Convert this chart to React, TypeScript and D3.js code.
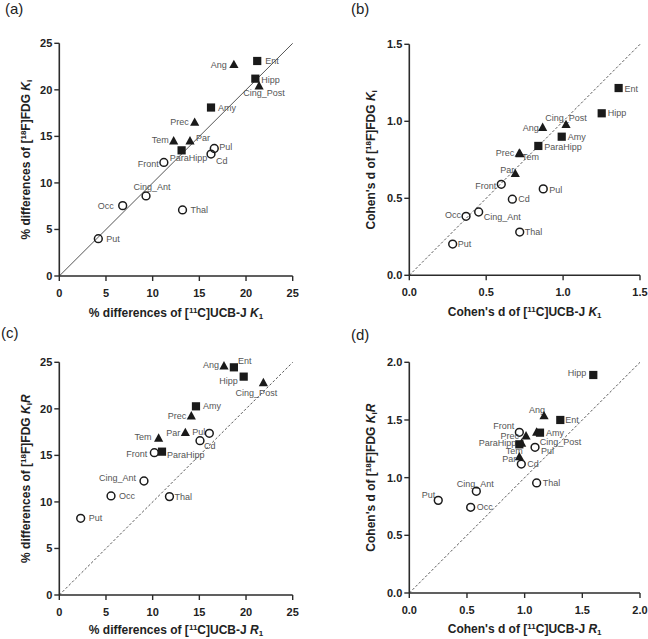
import React from "react";
import * as d3 from "d3";

// ---------- data ----------
const regions = ["Put", "Occ", "Cing_Ant", "Front", "Thal", "Cd", "Pul", "Ang", "Cing_Post", "Prec", "Tem", "Par", "Ent", "Hipp", "Amy", "ParaHipp"];
const groups = ["circle", "circle", "circle", "circle", "circle", "circle", "circle", "triangle", "triangle", "triangle", "triangle", "triangle", "square", "square", "square", "square"];

// (a) % differences K1 vs Ki
const aX = [4.18, 6.79, 9.29, 11.2, 13.2, 16.25, 16.6, 18.7, 21.4, 14.5, 12.25, 14.0, 21.2, 21.0, 16.25, 13.1];
const aY = [4.01, 7.56, 8.6, 12.2, 7.1, 13.1, 13.7, 22.7, 20.4, 16.5, 14.5, 14.5, 23.1, 21.2, 18.1, 13.5];
// (b) Cohen's d K1 vs Ki
const bX = [0.282, 0.369, 0.451, 0.598, 0.718, 0.67, 0.871, 0.867, 1.019, 0.715, 0.72, 0.689, 1.361, 1.251, 0.991, 0.839];
const bY = [0.203, 0.383, 0.411, 0.591, 0.281, 0.494, 0.561, 0.959, 0.978, 0.792, 0.788, 0.66, 1.216, 1.052, 0.9, 0.84];
// (c) % differences R1 vs KiR
const cX = [2.29, 5.54, 9.07, 10.18, 11.8, 15.07, 16.07, 17.64, 21.86, 14.14, 10.64, 13.5, 18.7, 19.75, 14.64, 11.0];
const cY = [8.24, 10.64, 12.25, 15.29, 10.57, 16.58, 17.37, 24.6, 22.8, 19.23, 16.83, 17.44, 24.46, 23.46, 20.27, 15.4];
// (d) Cohen's d R1 vs KiR
const dX = [0.251, 0.532, 0.581, 0.954, 1.104, 0.971, 1.09, 1.168, 1.104, 1.012, 0.974, 0.954, 1.309, 1.595, 1.133, 0.954];
const dY = [0.803, 0.743, 0.882, 1.393, 0.954, 1.118, 1.263, 1.535, 1.393, 1.361, 1.298, 1.18, 1.5, 1.89, 1.39, 1.289];

const pctTicks = [0, 5, 10, 15, 20, 25];
const d15Ticks = [0, 0.5, 1.0, 1.5];
const d20Ticks = [0, 0.5, 1.0, 1.5, 2.0];

// ---------- label placements (dx, dy, anchor) ----------
type LP = [number, number, string];
const labA: Record<string, LP> = {
  Put: [8, 0, "start"], Occ: [-9, 0, "end"], Cing_Ant: [6, -9, "middle"], Front: [-5, 1, "end"],
  Thal: [8, 0, "start"], Cd: [5, 7, "start"], Pul: [5, -2, "start"], Ang: [-7, 0, "end"],
  Cing_Post: [5, 7, "middle"], Prec: [-6, -1, "end"], Tem: [-5, -1, "end"], Par: [6, -3, "start"],
  Ent: [8, 0, "start"], Hipp: [6, 1, "start"], Amy: [7, 0, "start"], ParaHipp: [7, 8, "middle"],
};
const labB: Record<string, LP> = {
  Put: [5, 0, "start"], Occ: [-5, -1, "end"], Cing_Ant: [5, 5, "start"], Front: [-5, 2, "end"],
  Thal: [5, 0, "start"], Cd: [6, 0, "start"], Pul: [6, 1, "start"], Ang: [-4, 0, "end"],
  Cing_Post: [0, -7, "middle"], Prec: [-5, 0, "end"], Tem: [2, 3, "start"], Par: [-1, -4, "end"],
  Ent: [6, 1, "start"], Hipp: [6, 0, "start"], Amy: [6, 0, "start"], ParaHipp: [6, 1, "start"],
};
const labC: Record<string, LP> = {
  Put: [8, 0, "start"], Occ: [8, 0, "start"], Cing_Ant: [-8, -3, "end"], Front: [-7, 1, "end"],
  Thal: [5, 0, "start"], Cd: [4, 5, "start"], Pul: [-4, -1, "end"], Ang: [-5, -1, "end"],
  Cing_Post: [-7, 10, "middle"], Prec: [-5, 0, "end"], Tem: [-7, -1, "end"], Par: [-5, 0, "end"],
  Ent: [4, -6, "start"], Hipp: [-6, 4, "end"], Amy: [7, 0, "start"], ParaHipp: [5, 3, "start"],
};
const labD: Record<string, LP> = {
  Put: [-3, -6, "end"], Occ: [6, 0, "start"], Cing_Ant: [-1, -7, "middle"], Front: [-5, -6, "end"],
  Thal: [6, 0, "start"], Cd: [6, 0, "start"], Pul: [6, 4, "start"], Ang: [-7, -6, "middle"],
  Cing_Post: [3, 10, "start"], Prec: [-7, 0, "end"], Tem: [1, 8, "end"], Par: [-3, 2, "end"],
  Ent: [5, 0, "start"], Hipp: [-7, -2, "end"], Amy: [6, 0, "start"], ParaHipp: [-3, -1, "end"],
};

const FONT = "'Liberation Sans', Arial, Helvetica, sans-serif";
const AXIS = "#2b2b2b";
const MARK = "#1a1a1a";
const LABEL = "#555";

type PanelProps = {
  letter: string;
  letterX: number;
  letterY: number;
  x0: number; x1: number; top: number; bottom: number;
  domain: number;
  ticks: number[];
  fmt: (v: number) => string;
  xs: number[]; ys: number[];
  labels: Record<string, LP>;
  dashed: boolean;
  xTitle: React.ReactNode;
  yTitle: React.ReactNode;
  yTitleOffset: number;
  xTitleOffset: number;
};

function Marker({ kind, cx, cy }: { kind: string; cx: number; cy: number }) {
  if (kind === "circle") {
    return <circle cx={cx} cy={cy} r={3.9} fill="none" stroke={MARK} strokeWidth={1.5} />;
  }
  if (kind === "square") {
    return <rect x={cx - 4.1} y={cy - 4.1} width={8.2} height={8.2} fill={MARK} />;
  }
  const p = d3.path();
  p.moveTo(cx, cy - 5);
  p.lineTo(cx + 4.6, cy + 3.4);
  p.lineTo(cx - 4.6, cy + 3.4);
  p.closePath();
  return <path d={p.toString()} fill={MARK} />;
}

function Panel(props: PanelProps) {
  const { x0, x1, top, bottom, domain, ticks, fmt, xs, ys, labels, dashed } = props;
  const x = d3.scaleLinear().domain([0, domain]).range([x0, x1]);
  const y = d3.scaleLinear().domain([0, domain]).range([bottom, top]);
  const midX = (x0 + x1) / 2;
  const midY = (top + bottom) / 2;
  return (
    <g fontFamily={FONT}>
      <text x={props.letterX} y={props.letterY} fontSize={15} fill="#222">{props.letter}</text>
      {/* identity line */}
      <line x1={x(0)} y1={y(0)} x2={x(domain)} y2={y(domain)}
        stroke={dashed ? "#444" : "#555"} strokeWidth={dashed ? 0.9 : 1}
        strokeDasharray={dashed ? "2.5,2" : undefined} />
      {/* labels */}
      {regions.map((r, i) => {
        const lp = labels[r];
        return (
          <text key={"l" + r} x={x(xs[i]) + lp[0]} y={y(ys[i]) + lp[1]} dy="0.35em"
            textAnchor={lp[2] as any} fontSize={9} fill={LABEL}>{r}</text>
        );
      })}
      {/* markers */}
      {regions.map((r, i) => (
        <Marker key={"m" + r} kind={groups[i]} cx={x(xs[i])} cy={y(ys[i])} />
      ))}
      {/* axes */}
      <line x1={x0} y1={bottom} x2={x1} y2={bottom} stroke={AXIS} strokeWidth={1.6} />
      <line x1={x0} y1={bottom} x2={x0} y2={top} stroke={AXIS} strokeWidth={1.6} />
      {ticks.map((t) => (
        <g key={"xt" + t}>
          <line x1={x(t)} x2={x(t)} y1={bottom} y2={bottom + 5} stroke={AXIS} strokeWidth={1.4} />
          <text x={x(t)} y={bottom + 17} dy="0.35em" textAnchor="middle" fontSize={11} fontWeight="bold" fill="#222">{fmt(t)}</text>
        </g>
      ))}
      {ticks.map((t) => (
        <g key={"yt" + t}>
          <line x1={x0 - 5} x2={x0} y1={y(t)} y2={y(t)} stroke={AXIS} strokeWidth={1.4} />
          <text x={x0 - 7} y={y(t)} dy="0.35em" textAnchor="end" fontSize={11} fontWeight="bold" fill="#222">{fmt(t)}</text>
        </g>
      ))}
      <text x={midX} y={bottom + props.xTitleOffset} dy="0.35em" textAnchor="middle" fontSize={12} fontWeight="bold" fill="#222">{props.xTitle}</text>
      <text transform={`translate(${x0 - props.yTitleOffset},${midY}) rotate(-90)`} dy="0.35em" textAnchor="middle" fontSize={12} fontWeight="bold" fill="#222">{props.yTitle}</text>
    </g>
  );
}

const Sup = ({ t }: { t: string }) => <tspan baselineShift="super" fontSize={8}>{t}</tspan>;
const Sub = ({ t }: { t: string }) => <tspan baselineShift="-2" fontSize={8}>{t}</tspan>;

const pctX = (v: string, sub: string) => (
  <>
    <tspan>% differences of [</tspan><Sup t="11" /><tspan>C]UCB-J </tspan>
    <tspan fontStyle="italic">{v}</tspan><Sub t={sub} />
  </>
);
const cohenX = (v: string, sub: string) => (
  <>
    <tspan>Cohen's d of [</tspan><Sup t="11" /><tspan>C]UCB-J </tspan>
    <tspan fontStyle="italic">{v}</tspan><Sub t={sub} />
  </>
);
const fdgY = (prefix: string, withR: boolean) => (
  <>
    <tspan>{prefix}[</tspan><Sup t="18" /><tspan>F]FDG </tspan>
    <tspan fontStyle="italic">K</tspan><Sub t="i" />
    {withR ? <tspan fontStyle="italic">R</tspan> : null}
  </>
);

const fmtInt = (v: number) => d3.format("d")(v);
const fmt1 = (v: number) => d3.format(".1f")(v);

export default function App() {
  return (
    <svg width={648} height={639} style={{ position: "absolute", left: 0, top: 0, background: "#fff" }}>
      <rect width={648} height={639} fill="#fff" />
      <Panel letter="(a)" letterX={5} letterY={14} x0={59.3} x1={292.7} top={43.3} bottom={276}
        domain={25} ticks={pctTicks} fmt={fmtInt} xs={aX} ys={aY} labels={labA} dashed={false}
        xTitle={pctX("K", "1")} yTitle={fdgY("% differences of ", false)} yTitleOffset={34} xTitleOffset={36.5} />
      <Panel letter="(b)" letterX={351} letterY={14} x0={409.3} x1={640} top={44.3} bottom={275.3}
        domain={1.5} ticks={d15Ticks} fmt={fmt1} xs={bX} ys={bY} labels={labB} dashed={true}
        xTitle={cohenX("K", "1")} yTitle={fdgY("Cohen's d of ", false)} yTitleOffset={38.6} xTitleOffset={36.5} />
      <Panel letter="(c)" letterX={1} letterY={338} x0={59.3} x1={292.7} top={362.3} bottom={595}
        domain={25} ticks={pctTicks} fmt={fmtInt} xs={cX} ys={cY} labels={labC} dashed={true}
        xTitle={pctX("R", "1")} yTitle={fdgY("% differences of ", true)} yTitleOffset={34} xTitleOffset={35} />
      <Panel letter="(d)" letterX={351} letterY={340} x0={409.3} x1={640} top={362.3} bottom={593}
        domain={2.0} ticks={d20Ticks} fmt={fmt1} xs={dX} ys={dY} labels={labD} dashed={true}
        xTitle={cohenX("R", "1")} yTitle={fdgY("Cohen's d of ", true)} yTitleOffset={38.6} xTitleOffset={36} />
    </svg>
  );
}
